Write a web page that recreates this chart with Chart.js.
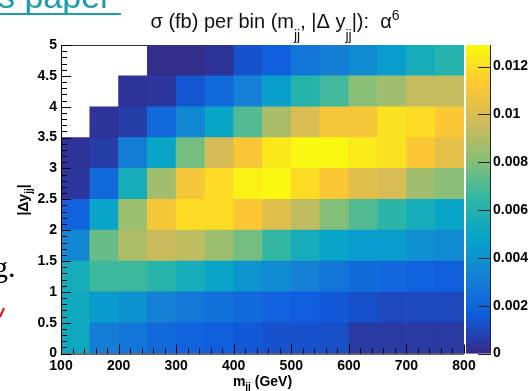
<!DOCTYPE html>
<html>
<head>
<meta charset="utf-8">
<script src="https://cdn.jsdelivr.net/npm/chart.js@4/dist/chart.umd.min.js"></script>
<style>
html, body { margin: 0; padding: 0; background: #fff; }
#wrap { width: 530px; height: 391px; }
</style>
</head>
<body>
<div id="wrap"><canvas id="sigma" width="530" height="391"></canvas></div>
<script>
// bins: m_jj (GeV) 50 GeV wide, |dy_jj| 0.5 wide
var mjjCentres = [125, 175, 225, 275, 325, 375, 425, 475, 525, 575, 625, 675, 725, 775];
var dyLow = [0, 0.5, 1, 1.5, 2, 2.5, 3, 3.5, 4, 4.5];

// sigma (fb) per bin, one array per |dy| row (bottom to top), null = empty bin
var sigmaDy00 = [0.0052, 0.0031, 0.0027, 0.0022, 0.0019, 0.0017, 0.0015, 0.0013, 0.0013, 0.0012, 0.0005, 0.0005, 0.0005, 0.0005];
var sigmaDy05 = [0.0053, 0.0044, 0.0040, 0.0032, 0.0028, 0.0025, 0.0022, 0.0019, 0.0017, 0.0015, 0.0013, 0.0010, 0.0010, 0.0010];
var sigmaDy10 = [0.0055, 0.0067, 0.0067, 0.0062, 0.0055, 0.0049, 0.0041, 0.0037, 0.0032, 0.0027, 0.0023, 0.0021, 0.0019, 0.0018];
var sigmaDy15 = [0.0035, 0.0075, 0.0089, 0.0095, 0.0093, 0.0085, 0.0077, 0.0065, 0.0055, 0.0049, 0.0045, 0.0045, 0.0039, 0.0037];
var sigmaDy20 = [0.0019, 0.0049, 0.0085, 0.0110, 0.0119, 0.0119, 0.0112, 0.0102, 0.0093, 0.0080, 0.0071, 0.0063, 0.0055, 0.0049];
var sigmaDy25 = [0.0004, 0.0022, 0.0055, 0.0086, 0.0110, 0.0119, 0.0126, 0.0128, 0.0119, 0.0112, 0.0102, 0.0099, 0.0086, 0.0081];
var sigmaDy30 = [0.0003, 0.0006, 0.0031, 0.0049, 0.0077, 0.0098, 0.0111, 0.0123, 0.0128, 0.0128, 0.0124, 0.0121, 0.0112, 0.0103];
var sigmaDy35 = [null, 0.0003, 0.0006, 0.0022, 0.0035, 0.0050, 0.0071, 0.0088, 0.0099, 0.0110, 0.0110, 0.0121, 0.0119, 0.0112];
var sigmaDy40 = [null, null, 0.0003, 0.0004, 0.0014, 0.0022, 0.0032, 0.0046, 0.0061, 0.0068, 0.0081, 0.0086, 0.0094, 0.0094];
var sigmaDy45 = [null, null, null, 0.0001, 0.0001, 0.0003, 0.0013, 0.0018, 0.0027, 0.0031, 0.0037, 0.0045, 0.0055, 0.0061];
var sigmaRows = [sigmaDy00, sigmaDy05, sigmaDy10, sigmaDy15, sigmaDy20, sigmaDy25, sigmaDy30, sigmaDy35, sigmaDy40, sigmaDy45];

var xTickValues = [100, 200, 300, 400, 500, 600, 700, 800];
var yTickValues = [0, 0.5, 1, 1.5, 2, 2.5, 3, 3.5, 4, 4.5, 5];
var zTickValues = [0, 0.002, 0.004, 0.006, 0.008, 0.01, 0.012];
var zMax = 0.0129;

// ROOT kBird palette
var birdStops = [0, 0.125, 0.25, 0.375, 0.5, 0.625, 0.75, 0.875, 1];
var birdRGB = [[53,42,135],[15,92,221],[20,129,214],[6,164,202],[46,183,164],[135,191,119],[209,187,89],[254,200,50],[249,251,14]];

function rgb(a) { return 'rgb(' + a.map(Math.round).join(',') + ')'; }

function birdColor(v) {
    var t = Math.max(0, Math.min(1, v / zMax));
    for (var i = 1; i < birdStops.length; i++) {
        if (t <= birdStops[i]) {
            var f = (t - birdStops[i - 1]) / (birdStops[i] - birdStops[i - 1]);
            var a = birdRGB[i - 1], b = birdRGB[i];
            return rgb([a[0] + (b[0] - a[0]) * f, a[1] + (b[1] - a[1]) * f, a[2] + (b[2] - a[2]) * f]);
        }
    }
    return rgb(birdRGB[birdRGB.length - 1]);
}

var datasets = [];
sigmaRows.forEach(function (row, j) {
    var pts = [];
    row.forEach(function (v, i) {
        if (v === null) return;
        pts.push({ x: mjjCentres[i], y: [dyLow[j], dyLow[j] + 0.5], v: v });
    });
    datasets.push({
        label: '|dy| ' + dyLow[j],
        data: pts,
        backgroundColor: pts.map(function (p) { return birdColor(p.v); })
    });
});

var FONT = '"Liberation Sans", Arial, Helvetica, sans-serif';

// draws text with sub/superscripts, returns width
function richText(c, parts, x, y, size, weight, subOff, measureOnly) {
    var x0 = x;
    parts.forEach(function (p) {
        var fs = p[1] ? Math.round(size * 0.72) : size;
        c.font = weight + ' ' + fs + 'px ' + FONT;
        var dy = p[1] === 'sub' ? subOff : (p[1] === 'sup' ? -size * 0.4 : 0);
        if (!measureOnly) c.fillText(p[0], x, y + dy);
        x += c.measureText(p[0]).width;
    });
    return x - x0;
}

var heatDecor = {
    id: 'heatDecor',
    beforeDatasetsDraw: function (chart) {
        var c = chart.ctx, a = chart.chartArea;
        c.save();
        c.strokeStyle = '#333';
        c.lineWidth = 1;
        c.beginPath();
        c.moveTo(a.left, a.top + 0.5);
        c.lineTo(a.right, a.top + 0.5);
        c.stroke();
        c.restore();
    },
    afterDatasetsDraw: function (chart) {
        var c = chart.ctx, a = chart.chartArea;
        var sx = chart.scales.x, sy = chart.scales.y, sz = chart.scales.zbar;
        c.save();

        // axes with inner ticks
        c.strokeStyle = '#000';
        c.lineWidth = 1;
        c.beginPath();
        c.moveTo(a.left + 0.5, a.top);
        c.lineTo(a.left + 0.5, a.bottom + 0.5);
        c.lineTo(a.right, a.bottom + 0.5);
        for (var xv = 100; xv <= 800; xv += 20) {
            var px = Math.round(sx.getPixelForValue(xv)) + 0.5;
            c.moveTo(px, a.bottom);
            c.lineTo(px, a.bottom - (xv % 100 === 0 ? 9 : 5));
        }
        for (var k = 0; k <= 50; k++) {
            var py = Math.round(sy.getPixelForValue(k / 10)) + 0.5;
            c.moveTo(a.left, py);
            c.lineTo(a.left + (k % 5 === 0 ? 10 : 6), py);
        }
        c.stroke();

        // colour bar
        var top = sz.getPixelForValue(zMax), bot = sz.getPixelForValue(0);
        var g = c.createLinearGradient(0, bot, 0, top);
        birdStops.forEach(function (s, i) { g.addColorStop(s, rgb(birdRGB[i])); });
        c.fillStyle = g;
        c.fillRect(sz.left + 2, top, 24, bot - top);
        c.strokeStyle = '#222';
        c.beginPath();
        c.moveTo(sz.left + 26.5, top);
        c.lineTo(sz.left + 26.5, bot);
        zTickValues.forEach(function (v) {
            var py = Math.round(sz.getPixelForValue(v)) + 0.5;
            c.moveTo(sz.left + 14, py);
            c.lineTo(sz.left + 27, py);
        });
        c.stroke();

        // title
        c.fillStyle = '#111';
        c.textBaseline = 'alphabetic';
        var title = [['\u03c3 (fb) per bin (m'], ['jj', 'sub'], [', |\u0394 y'], ['jj', 'sub'], ['|):  \u03b1'], ['6', 'sup']];
        var tw = richText(c, title, 0, 0, 20, 'normal', 12, true);
        richText(c, title, 275 - tw / 2, 28, 20, 'normal', 12, false);

        // axis titles
        c.fillStyle = '#000';
        var xt = [['m'], ['jj', 'sub'], [' (GeV)']];
        var xw = richText(c, xt, 0, 0, 14, 'bold', 4, true);
        richText(c, xt, (a.left + a.right) / 2 - xw / 2, 386, 14, 'bold', 4, false);

        var yt = [['|\u0394y'], ['jj', 'sub'], ['|']];
        var yw = richText(c, yt, 0, 0, 14, 'bold', 4, true);
        c.save();
        c.translate(28, 200);
        c.rotate(-Math.PI / 2);
        richText(c, yt, -yw / 2, 0, 14, 'bold', 4, false);
        c.restore();

        // slide fragments around the picture
        c.fillStyle = '#1d9cad';
        c.font = '34px ' + FONT;
        c.fillText('s paper', -2, 8);
        c.fillRect(0, 13, 121, 2);
        c.fillStyle = '#000';
        c.font = '30px "Liberation Serif", "Times New Roman", serif';
        c.fillText('g.', -7, 277);
        c.strokeStyle = '#e01010';
        c.lineWidth = 2;
        c.beginPath();
        c.moveTo(0, 317);
        c.lineTo(4, 308);
        c.stroke();

        c.restore();
    }
};

var tickFont = { family: FONT, size: 14, weight: 'bold' };

new Chart(document.getElementById('sigma'), {
    type: 'bar',
    data: { datasets: datasets },
    options: {
        responsive: false,
        animation: false,
        layout: { padding: { top: 45, left: 0, right: 0, bottom: 0 } },
        datasets: { bar: { grouped: false, barPercentage: 1, categoryPercentage: 1, borderWidth: 0 } },
        plugins: { legend: { display: false }, tooltip: { enabled: false }, title: { display: false } },
        scales: {
            x: {
                type: 'linear', min: 100, max: 800, offset: false,
                grid: { display: false, drawTicks: false }, border: { display: false },
                afterBuildTicks: function (s) { s.ticks = xTickValues.map(function (v) { return { value: v }; }); },
                ticks: { font: tickFont, color: '#000', padding: 4, maxRotation: 0, autoSkip: false, callback: function (v) { return String(v); } },
                afterFit: function (s) { s.height = 35; }
            },
            y: {
                type: 'linear', min: 0, max: 5,
                grid: { display: false, drawTicks: false }, border: { display: false },
                afterBuildTicks: function (s) { s.ticks = yTickValues.map(function (v) { return { value: v }; }); },
                ticks: { font: tickFont, color: '#000', padding: 4, autoSkip: false, callback: function (v) { return String(v); } },
                afterFit: function (s) { s.width = 61; }
            },
            zbar: {
                axis: 'y', type: 'linear', position: 'right', min: 0, max: zMax,
                grid: { display: false, drawTicks: false }, border: { display: false },
                afterBuildTicks: function (s) { s.ticks = zTickValues.map(function (v) { return { value: v }; }); },
                ticks: { font: tickFont, color: '#000', padding: 29, autoSkip: false, callback: function (v) { return String(+v.toFixed(4)); } },
                afterFit: function (s) { s.width = 66; }
            }
        }
    },
    plugins: [heatDecor]
});
</script>
</body>
</html>
